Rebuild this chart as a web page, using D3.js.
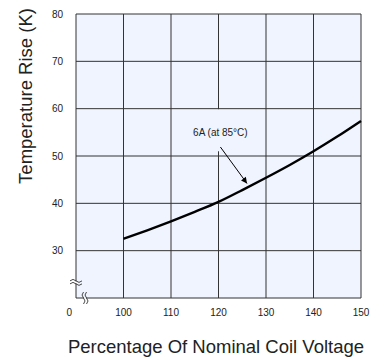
<!DOCTYPE html>
<html>
<head>
<meta charset="utf-8">
<script src="https://cdn.jsdelivr.net/npm/d3@7"></script>
<style>
  body { margin: 0; background: #fff; }
  text { font-family: "Liberation Sans", Arial, sans-serif; fill: #222; }
</style>
</head>
<body>
<div id="container"></div>
<script>
// donnees
const voltage = [100, 105, 110, 115, 120, 125, 130, 135, 140, 145, 150];
const tempRise = [32.5, 34.3, 36.2, 38.2, 40.3, 42.8, 45.4, 48.1, 51.0, 54.1, 57.4];

const xTicks = [100, 110, 120, 130, 140, 150];
const xTickLabels = ["100", "110", "120", "130", "140", "150"];
const yTicks = [30, 40, 50, 60, 70, 80];
const yTickLabels = ["30", "40", "50", "60", "70", "80"];

const curveLabel = "6A (at 85°C)";
const xTitle = "Percentage Of Nominal Coil Voltage";
const yTitle = "Temperature Rise (K)";

const width = 386, height = 360;
const plotLeft = 76, plotRight = 361, plotTop = 14, plotBottom = 298;

const x = d3.scaleLinear().domain([90, 150]).range([plotLeft, plotRight]);
const y = d3.scaleLinear().domain([20, 80]).range([plotBottom, plotTop]);

const svg = d3.select("#container").append("svg")
    .attr("width", width)
    .attr("height", height);

// fond
svg.append("rect")
    .attr("x", x(90)).attr("y", y(80))
    .attr("width", x(150) - x(90)).attr("height", y(20) - y(80))
    .attr("fill", "#eff4fe");

const grid = svg.append("g").attr("stroke", "#333").attr("stroke-width", 1);

// lignes verticales (120 interrompue derriere l'etiquette)
for (const v of xTicks) {
    if (v === 120) {
        grid.append("line").attr("x1", x(v)).attr("x2", x(v)).attr("y1", y(80)).attr("y2", y(60) + 0.5);
        grid.append("line").attr("x1", x(v)).attr("x2", x(v)).attr("y1", y(51)).attr("y2", y(20));
    } else {
        grid.append("line").attr("x1", x(v)).attr("x2", x(v)).attr("y1", y(80)).attr("y2", y(20));
    }
}
// lignes horizontales
for (const v of yTicks) {
    grid.append("line").attr("x1", x(90)).attr("x2", x(150)).attr("y1", y(v)).attr("y2", y(v));
}
// axes
grid.append("line").attr("x1", x(90)).attr("x2", x(90)).attr("y1", y(80)).attr("y2", y(20));
grid.append("line").attr("x1", x(90)).attr("x2", x(150)).attr("y1", y(20)).attr("y2", y(20));

// marques de coupure
const brk = svg.append("g").attr("fill", "none").attr("stroke", "#333").attr("stroke-width", 0.9);
const by = y(23.3), bx = x(91.9);
brk.append("rect").attr("x", x(90) - 1).attr("y", by - 1).attr("width", 2).attr("height", 2)
    .attr("fill", "#fff").attr("stroke", "none");
brk.append("rect").attr("x", bx - 1).attr("y", y(20) - 1).attr("width", 2).attr("height", 2)
    .attr("fill", "#fff").attr("stroke", "none");
brk.append("path").attr("d", `M${x(90) - 6},${by - 1.5} q3,-3 6,0 t6,0`);
brk.append("path").attr("d", `M${x(90) - 6},${by + 1.5} q3,-3 6,0 t6,0`);
brk.append("path").attr("d", `M${bx - 1.5},${y(20) - 6} q-3,3 0,6 t0,6`);
brk.append("path").attr("d", `M${bx + 1.5},${y(20) - 6} q-3,3 0,6 t0,6`);

// etiquettes des graduations
svg.append("g").selectAll("text")
    .data(yTicks)
    .join("text")
    .attr("x", plotLeft - 13)
    .attr("y", d => y(d) + 3.5)
    .attr("text-anchor", "end")
    .attr("font-size", 10)
    .text((d, i) => yTickLabels[i]);

svg.append("g").selectAll("text")
    .data(xTicks)
    .join("text")
    .attr("x", d => x(d))
    .attr("y", plotBottom + 18)
    .attr("text-anchor", "middle")
    .attr("font-size", 10)
    .text((d, i) => xTickLabels[i]);

svg.append("text")
    .attr("x", x(88.6))
    .attr("y", plotBottom + 18)
    .attr("text-anchor", "middle")
    .attr("font-size", 10)
    .text("0");

// courbe
const line = d3.line()
    .x((d, i) => x(voltage[i]))
    .y(d => y(d))
    .curve(d3.curveMonotoneX);

svg.append("path")
    .datum(tempRise)
    .attr("d", line)
    .attr("fill", "none")
    .attr("stroke", "#000")
    .attr("stroke-width", 2.4);

// annotation
svg.append("defs").append("marker")
    .attr("id", "arr")
    .attr("viewBox", "0 0 10 10")
    .attr("refX", 10).attr("refY", 5)
    .attr("markerWidth", 8).attr("markerHeight", 6)
    .attr("markerUnits", "userSpaceOnUse")
    .attr("orient", "auto")
    .append("path").attr("d", "M0,0 L10,5 L0,10 Z").attr("fill", "#000");

svg.append("text")
    .attr("x", x(120.4))
    .attr("y", y(54.3))
    .attr("text-anchor", "middle")
    .attr("font-size", 10)
    .text(curveLabel);

svg.append("line")
    .attr("x1", x(120.4)).attr("y1", y(51.9))
    .attr("x2", x(126)).attr("y2", y(44.2))
    .attr("stroke", "#000").attr("stroke-width", 1)
    .attr("marker-end", "url(#arr)");

// titres
svg.append("text")
    .attr("x", 216)
    .attr("y", 353)
    .attr("text-anchor", "middle")
    .attr("font-size", 18.5)
    .text(xTitle);

svg.append("text")
    .attr("transform", "translate(32,96) rotate(-90)")
    .attr("text-anchor", "middle")
    .attr("font-size", 18.5)
    .text(yTitle);
</script>
</body>
</html>
